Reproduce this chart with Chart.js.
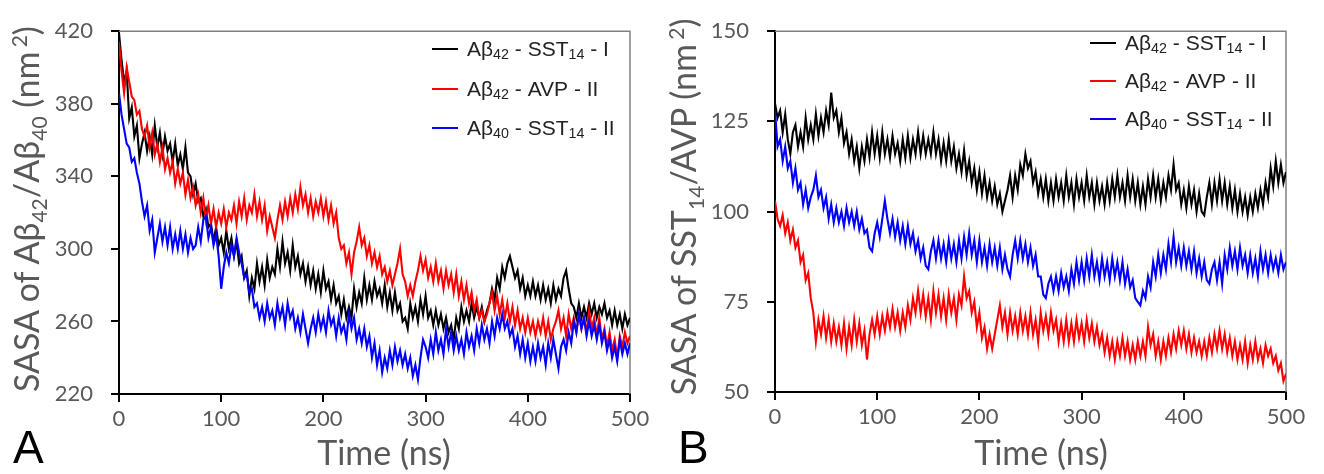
<!DOCTYPE html>
<html>
<head>
<meta charset="utf-8">
<title>SASA vs time</title>
<script src="https://cdn.jsdelivr.net/npm/chart.js@4.4.1/dist/chart.umd.min.js"></script>
<style>
  html, body { margin: 0; padding: 0; background: #fff; }
  body { position: relative; width: 1324px; height: 474px; overflow: hidden; font-family: Lato, sans-serif; }
  .panel { position: absolute; top: 0; }
  .title { position: absolute; white-space: nowrap; color: #595959; font-size: 34px; line-height: 1; }
  .title.y { transform: translate(-50%, -50%) rotate(-90deg); }
  .title.x { transform: translate(-50%, -50%); }
  .title sub, .title sup { font-size: 62%; line-height: 0; }
  .legend-row { position: absolute; height: 24px; display: flex; align-items: center; font-family: "Liberation Sans", Arial, sans-serif; font-size: 21px; color: #222; white-space: nowrap; }
  .legend-row i { display: inline-block; width: 26px; height: 2px; margin-right: 9px; }
  .legend-row sub { font-size: 68%; vertical-align: baseline; position: relative; top: 5px; line-height: 0; }
  .letter { position: absolute; font-family: "Liberation Sans", Arial, sans-serif; font-size: 46px; line-height: 1; color: #000; }
</style>
</head>
<body>

<div class="panel" style="left:0;width:660px;height:474px"><canvas id="chart-a" width="660" height="474"></canvas></div>
<div class="panel" style="left:656px;width:668px;height:474px"><canvas id="chart-b" width="668" height="474"></canvas></div>

<div class="title y" style="left:26px;top:209px">SASA of Aβ<sub>42</sub>/Aβ<sub>40</sub> (nm&thinsp;<sup>2</sup>)</div>
<div class="title y" style="left:683px;top:207px">SASA of SST<sub>14</sub>/AVP (nm&thinsp;<sup>2</sup>)</div>
<div class="title x" style="left:384px;top:452px">Time (ns)</div>
<div class="title x" style="left:1041px;top:452px">Time (ns)</div>

<div class="letter" style="left:13px;top:424px">A</div>
<div class="letter" style="left:678px;top:424px">B</div>

<div class="legend-row" style="left:432px;top:37px"><i style="background:#000"></i>Aβ<sub>42</sub>&nbsp;-&nbsp;SST<sub>14</sub>&nbsp;-&nbsp;I</div>
<div class="legend-row" style="left:432px;top:77px"><i style="background:#ff0000"></i>Aβ<sub>42</sub>&nbsp;-&nbsp;AVP&nbsp;-&nbsp;II</div>
<div class="legend-row" style="left:432px;top:116px"><i style="background:#0000ff"></i>Aβ<sub>40</sub>&nbsp;-&nbsp;SST<sub>14</sub>&nbsp;-&nbsp;II</div>

<div class="legend-row" style="left:1090px;top:31px"><i style="background:#000"></i>Aβ<sub>42</sub>&nbsp;-&nbsp;SST<sub>14</sub>&nbsp;-&nbsp;I</div>
<div class="legend-row" style="left:1090px;top:69px"><i style="background:#ff0000"></i>Aβ<sub>42</sub>&nbsp;-&nbsp;AVP&nbsp;-&nbsp;II</div>
<div class="legend-row" style="left:1090px;top:107px"><i style="background:#0000ff"></i>Aβ<sub>40</sub>&nbsp;-&nbsp;SST<sub>14</sub>&nbsp;-&nbsp;II</div>

<script>
// time axis (ns), one sample every 2.5 ns
const time = [
    0, 2.5, 5, 7.5, 10, 12.5, 15, 17.5, 20, 22.5, 25, 27.5, 30, 32.5, 35, 37.5, 40, 42.5, 45, 47.5,
    50, 52.5, 55, 57.5, 60, 62.5, 65, 67.5, 70, 72.5, 75, 77.5, 80, 82.5, 85, 87.5, 90, 92.5, 95, 97.5,
    100, 102.5, 105, 107.5, 110, 112.5, 115, 117.5, 120, 122.5, 125, 127.5, 130, 132.5, 135, 137.5, 140, 142.5, 145, 147.5,
    150, 152.5, 155, 157.5, 160, 162.5, 165, 167.5, 170, 172.5, 175, 177.5, 180, 182.5, 185, 187.5, 190, 192.5, 195, 197.5,
    200, 202.5, 205, 207.5, 210, 212.5, 215, 217.5, 220, 222.5, 225, 227.5, 230, 232.5, 235, 237.5, 240, 242.5, 245, 247.5,
    250, 252.5, 255, 257.5, 260, 262.5, 265, 267.5, 270, 272.5, 275, 277.5, 280, 282.5, 285, 287.5, 290, 292.5, 295, 297.5,
    300, 302.5, 305, 307.5, 310, 312.5, 315, 317.5, 320, 322.5, 325, 327.5, 330, 332.5, 335, 337.5, 340, 342.5, 345, 347.5,
    350, 352.5, 355, 357.5, 360, 362.5, 365, 367.5, 370, 372.5, 375, 377.5, 380, 382.5, 385, 387.5, 390, 392.5, 395, 397.5,
    400, 402.5, 405, 407.5, 410, 412.5, 415, 417.5, 420, 422.5, 425, 427.5, 430, 432.5, 435, 437.5, 440, 442.5, 445, 447.5,
    450, 452.5, 455, 457.5, 460, 462.5, 465, 467.5, 470, 472.5, 475, 477.5, 480, 482.5, 485, 487.5, 490, 492.5, 495, 497.5,
    500,
];

// panel A: SASA of Abeta42 / Abeta40 (nm^2)
const a42Sst14I = [
    419, 404, 392, 398, 372, 378, 362, 368, 350, 358, 364, 354, 362, 352, 368, 356, 364, 352, 362, 354,
    358, 348, 358, 346, 352, 344, 356, 342, 340, 330, 336, 326, 328, 318, 322, 312, 314, 304, 312, 302,
    306, 298, 310, 300, 306, 296, 304, 292, 296, 284, 288, 274, 284, 278, 292, 282, 290, 280, 294, 284,
    290, 286, 300, 290, 304, 292, 298, 288, 302, 290, 296, 286, 292, 282, 290, 280, 288, 278, 286, 276,
    288, 278, 282, 272, 280, 270, 274, 264, 272, 262, 268, 262, 278, 268, 276, 270, 284, 272, 280, 272,
    282, 274, 278, 270, 280, 268, 276, 266, 276, 266, 270, 260, 262, 256, 270, 262, 268, 260, 272, 264,
    274, 262, 266, 258, 266, 258, 264, 256, 262, 254, 258, 250, 262, 256, 268, 260, 266, 260, 270, 262,
    268, 262, 268, 260, 266, 270, 278, 272, 284, 278, 290, 284, 292, 296, 290, 284, 288, 278, 284, 274,
    280, 274, 282, 274, 280, 272, 280, 272, 278, 270, 280, 272, 278, 274, 284, 288, 278, 270, 268, 262,
    270, 262, 268, 262, 270, 264, 270, 262, 268, 264, 270, 262, 266, 258, 266, 258, 264, 256, 264, 258,
    262,
];
const a42AvpII = [
    414, 398, 386, 400, 392, 384, 382, 374, 376, 366, 362, 368, 356, 364, 352, 358, 348, 356, 344, 350,
    342, 348, 336, 344, 336, 342, 330, 338, 328, 334, 324, 330, 320, 328, 316, 324, 314, 322, 312, 320,
    314, 322, 312, 320, 316, 324, 314, 326, 318, 328, 316, 324, 320, 330, 318, 326, 316, 324, 310, 318,
    312, 306, 316, 324, 316, 326, 318, 328, 320, 330, 322, 334, 324, 330, 320, 328, 318, 326, 320, 328,
    318, 326, 316, 324, 314, 320, 306, 300, 302, 292, 298, 286, 298, 304, 312, 302, 306, 296, 302, 292,
    298, 290, 296, 286, 290, 282, 288, 280, 286, 292, 300, 286, 282, 274, 280, 274, 282, 288, 296, 288,
    294, 284, 290, 282, 292, 282, 288, 278, 288, 280, 286, 276, 286, 274, 282, 272, 280, 270, 276, 266,
    272, 262, 266, 260, 264, 270, 276, 266, 274, 264, 272, 262, 270, 260, 268, 258, 266, 256, 262, 254,
    262, 254, 260, 252, 260, 254, 262, 252, 260, 250, 256, 260, 266, 256, 262, 252, 264, 256, 262, 254,
    264, 256, 262, 254, 266, 256, 262, 252, 262, 250, 256, 246, 254, 244, 250, 240, 252, 246, 254, 248,
    252,
];
const a40Sst14II = [
    386, 374, 366, 358, 356, 348, 350, 342, 336, 326, 318, 324, 310, 316, 298, 306, 314, 304, 312, 302,
    312, 300, 308, 300, 310, 300, 308, 298, 306, 300, 302, 312, 304, 316, 318, 306, 312, 302, 308, 296,
    278, 290, 298, 292, 302, 296, 306, 298, 292, 284, 286, 276, 278, 268, 270, 262, 268, 260, 270, 262,
    266, 258, 270, 262, 268, 258, 270, 262, 266, 256, 262, 254, 264, 256, 248, 256, 262, 254, 264, 256,
    262, 254, 266, 258, 262, 252, 262, 254, 258, 250, 264, 256, 262, 250, 256, 248, 256, 246, 252, 240,
    248, 236, 244, 232, 240, 234, 244, 236, 246, 238, 244, 236, 242, 234, 240, 230, 236, 228, 240, 250,
    246, 240, 250, 242, 254, 244, 250, 242, 256, 246, 254, 244, 252, 244, 250, 242, 254, 246, 252, 244,
    256, 248, 258, 250, 256, 248, 260, 252, 262, 256, 264, 256, 260, 252, 256, 246, 252, 242, 250, 240,
    248, 238, 246, 238, 248, 240, 246, 236, 248, 240, 250, 242, 234, 246, 250, 244, 254, 248, 260, 254,
    264, 256, 262, 252, 260, 252, 258, 250, 258, 248, 254, 244, 250, 240, 246, 238, 250, 242, 248, 242,
    248,
];

// panel B: SASA of SST14 / AVP (nm^2)
const b42Sst14I = [
    130, 126, 128, 122, 127, 120, 116, 122, 124, 118, 122, 118, 126, 120, 124, 120, 127, 121, 126, 122,
    128, 124, 133, 126, 128, 122, 126, 119, 122, 116, 120, 114, 118, 112, 118, 114, 120, 115, 122, 116,
    121, 115, 122, 116, 120, 115, 121, 116, 119, 114, 120, 115, 121, 115, 120, 116, 122, 116, 121, 116,
    120, 116, 122, 116, 120, 114, 119, 114, 120, 114, 118, 112, 116, 111, 117, 110, 114, 108, 112, 106,
    111, 105, 110, 104, 108, 103, 107, 102, 105, 100, 103, 106, 110, 104, 110, 106, 113, 110, 116, 112,
    114, 108, 111, 105, 109, 104, 109, 103, 108, 103, 109, 104, 108, 103, 110, 104, 108, 102, 109, 104,
    108, 103, 110, 104, 108, 102, 108, 103, 107, 102, 108, 103, 109, 104, 110, 104, 108, 103, 110, 104,
    109, 103, 108, 102, 107, 102, 109, 104, 110, 104, 109, 103, 108, 104, 110, 106, 113, 106, 108, 102,
    106, 101, 107, 102, 106, 100, 105, 100, 99, 104, 108, 102, 108, 103, 109, 103, 108, 102, 107, 101,
    106, 100, 105, 100, 104, 99, 104, 100, 105, 101, 106, 102, 108, 104, 112, 107, 114, 108, 113, 108,
    111,
];
const b42AvpII = [
    103, 98, 96, 99, 94, 97, 92, 95, 90, 92, 86, 88, 81, 83, 76, 72, 64, 70, 66, 71,
    65, 70, 64, 69, 64, 68, 63, 69, 62, 68, 63, 70, 64, 69, 63, 67, 59, 66, 70, 66,
    71, 66, 71, 67, 72, 68, 73, 68, 72, 67, 72, 68, 74, 70, 76, 72, 78, 72, 77, 71,
    76, 70, 78, 72, 77, 71, 76, 70, 77, 72, 76, 70, 77, 74, 82, 76, 78, 72, 75, 68,
    72, 65, 68, 62, 66, 62, 66, 70, 74, 68, 72, 66, 72, 67, 71, 66, 72, 67, 71, 66,
    72, 66, 70, 64, 72, 67, 71, 66, 72, 67, 70, 64, 69, 64, 70, 64, 69, 64, 70, 65,
    69, 64, 70, 65, 69, 64, 68, 63, 66, 61, 65, 60, 64, 59, 64, 60, 65, 60, 64, 59,
    63, 59, 64, 60, 64, 60, 68, 63, 66, 60, 64, 59, 64, 60, 65, 61, 66, 62, 67, 63,
    67, 62, 66, 61, 65, 61, 64, 60, 64, 60, 65, 61, 66, 62, 67, 62, 66, 61, 65, 60,
    64, 59, 63, 59, 64, 58, 63, 59, 64, 59, 62, 58, 63, 60, 62, 58, 60, 56, 58, 53,
    55,
];
const b40Sst14II = [
    128, 118, 120, 114, 118, 112, 114, 108, 112, 106, 108, 102, 106, 101, 104, 106, 110, 104, 106, 101,
    104, 98, 102, 97, 101, 97, 100, 96, 101, 97, 100, 96, 100, 95, 98, 94, 95, 90, 89, 94,
    97, 93, 98, 103, 98, 94, 98, 93, 97, 92, 96, 91, 96, 91, 94, 89, 92, 87, 90, 85,
    84, 89, 92, 87, 92, 87, 91, 86, 92, 87, 91, 86, 92, 87, 93, 88, 94, 88, 92, 86,
    92, 86, 90, 85, 91, 86, 90, 85, 90, 84, 88, 84, 82, 88, 92, 87, 92, 87, 91, 86,
    90, 85, 88, 82, 82, 77, 76, 80, 82, 78, 82, 78, 83, 79, 82, 78, 84, 80, 86, 81,
    86, 81, 87, 82, 88, 82, 86, 81, 87, 82, 86, 81, 87, 82, 86, 81, 86, 80, 84, 79,
    81, 76, 75, 74, 78, 76, 82, 79, 86, 82, 88, 83, 88, 84, 91, 86, 93, 86, 90, 85,
    90, 85, 89, 84, 89, 83, 87, 82, 86, 81, 80, 84, 86, 81, 86, 80, 88, 84, 90, 85,
    89, 84, 90, 85, 88, 83, 88, 83, 87, 82, 89, 84, 88, 83, 88, 84, 87, 83, 88, 84,
    86,
];

const xTicks = [0, 100, 200, 300, 400, 500];
const yTicksA = [220, 260, 300, 340, 380, 420];
const yTicksB = [50, 75, 100, 125, 150];

Chart.defaults.font.family = 'Lato';

const framePlugin = {
    id: 'frame',
    beforeDatasetsDraw: (chart) => {
        const { ctx, chartArea: a } = chart;
        ctx.save();
        ctx.strokeStyle = '#808080';
        ctx.lineWidth = 1.5;
        ctx.beginPath();
        ctx.moveTo(a.left, a.top);
        ctx.lineTo(a.right, a.top);
        ctx.lineTo(a.right, a.bottom);
        ctx.stroke();
        ctx.restore();
    },
};

const tickAxis = (ticks, pad) => ({
    type: 'linear',
    min: ticks[0],
    max: ticks[ticks.length - 1],
    afterBuildTicks: (s) => { s.ticks = ticks.map((v) => ({ value: v })); },
    border: { color: '#000', width: 2 },
    grid: { drawOnChartArea: false, tickLength: 8, color: '#000', lineWidth: 2 },
    ticks: { color: '#595959', font: { size: 22 }, maxRotation: 0, padding: pad },
});

function makeChart(id, yTicks, series, box) {
    new Chart(document.getElementById(id), {
        type: 'line',
        data: {
            datasets: series.map((s) => ({
                data: time.map((t, i) => ({ x: t, y: s.values[i] })),
                borderColor: s.color,
                borderWidth: 2.1,
                pointRadius: 0,
                tension: 0,
                order: s.order,
            })),
        },
        options: {
            responsive: false,
            animation: false,
            events: [],
            layout: { padding: { top: box.top, right: box.right, left: 0, bottom: 0 } },
            plugins: { legend: { display: false }, tooltip: { enabled: false } },
            scales: {
                x: { ...tickAxis(xTicks, 4), afterFit: (s) => { s.height = box.xh; } },
                y: { ...tickAxis(yTicks, 18), afterFit: (s) => { s.width = 119; } },
            },
        },
        plugins: [framePlugin],
    });
}

makeChart('chart-a', yTicksA, [
    { values: a42Sst14I, color: '#000000', order: 2 },
    { values: a42AvpII, color: '#ff0000', order: 1 },
    { values: a40Sst14II, color: '#0000ff', order: 0 },
], { top: 23, right: 30, xh: 80 });

makeChart('chart-b', yTicksB, [
    { values: b42Sst14I, color: '#000000', order: 2 },
    { values: b42AvpII, color: '#ff0000', order: 1 },
    { values: b40Sst14II, color: '#0000ff', order: 0 },
], { top: 19, right: 38, xh: 82 });
</script>
</body>
</html>
